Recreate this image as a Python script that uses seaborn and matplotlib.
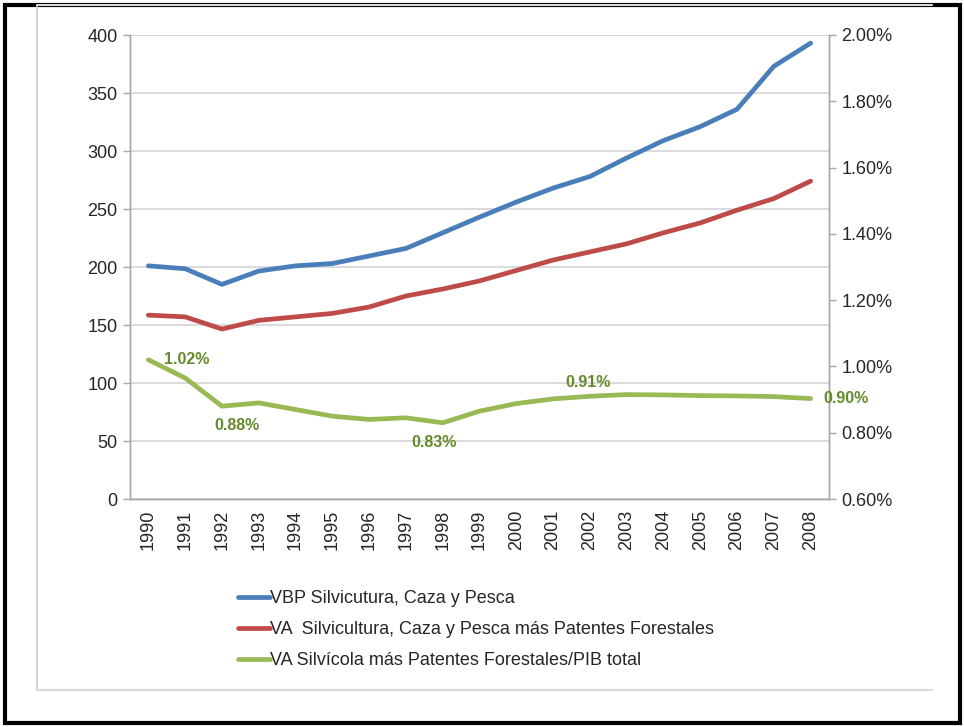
import seaborn as sns
import matplotlib.pyplot as plt
import pandas as pd
import numpy as np
from matplotlib.lines import Line2D
from matplotlib.ticker import FixedLocator, FuncFormatter

sns.set_style("white")
plt.rcParams['font.family'] = ['Liberation Sans', 'DejaVu Sans']

# Data
years = [str(y) for y in range(1990, 2009)]
vbp = [201, 198.5, 185, 196.5, 201, 203, 209.5, 216, 229.5, 243, 256,
       268, 278, 294, 309, 321, 336, 373, 393]
va = [158.5, 157, 146.5, 154, 157, 160, 165.5, 175, 181, 188, 197,
      206, 213, 220, 229.5, 238, 249, 259, 274]
ratio = [1.02, 0.965, 0.88, 0.89, 0.87, 0.85, 0.84, 0.845, 0.83, 0.865, 0.888,
         0.902, 0.91, 0.915, 0.914, 0.912, 0.911, 0.909, 0.903]

names = ["VBP Silvicutura, Caza y Pesca",
         "VA  Silvicultura, Caza y Pesca más Patentes Forestales",
         "VA Silvícola más Patentes Forestales/PIB total"]
colors = ["#4A7EBB", "#BE4B48", "#98B954"]

# which points of the ratio series carry a label, and where the label sits
label_idx = [0, 2, 8, 12, 18]
label_off = {0: (11, 0, 'left'), 2: (11, -14, 'center'), 8: (-6, -14, 'center'),
             12: (-1, 10, 'center'), 18: (9, 0, 'left')}

df = pd.DataFrame({"Year": years, "VBP": vbp, "VA": va, "Ratio": ratio})

fig = plt.figure(figsize=(9.64, 7.27), dpi=100)
ax = fig.add_axes([130 / 964, 1 - 499 / 727, 699 / 964, 464 / 727])
ax2 = ax.twinx()

lw = 3.4
sns.lineplot(data=df, x="Year", y="VBP", ax=ax, color=colors[0], lw=lw,
             sort=False, solid_capstyle='round', zorder=3)
sns.lineplot(data=df, x="Year", y="VA", ax=ax, color=colors[1], lw=lw,
             sort=False, solid_capstyle='round', zorder=3)
sns.lineplot(data=df, x="Year", y="Ratio", ax=ax2, color=colors[2], lw=lw,
             sort=False, solid_capstyle='round', zorder=3)

ax.set_xlim(-0.5, len(years) - 0.5)
ax.set_ylim(0, 400)
ax2.set_ylim(0.6, 2.0)
ax.set_yticks(np.arange(0, 401, 50))
ax2.set_yticks(np.arange(0.6, 2.01, 0.2))
ax2.yaxis.set_major_formatter(FuncFormatter(lambda v, p: f"{v:.2f}%"))

ax.set_xticks(range(len(years)))
ax.set_xticklabels(years, rotation=90)
ax.xaxis.set_minor_locator(FixedLocator(np.arange(-0.5, len(years), 1)))

txt = '#262626'
for a in (ax, ax2):
    a.set_xlabel("")
    a.set_ylabel("")
    a.tick_params(axis='both', labelsize=13, colors=txt)
    a.tick_params(axis='y', length=5, color='#A6A6A6', width=1, pad=4)
    for s in a.spines.values():
        s.set_color('#A6A6A6')
        s.set_linewidth(1)
    a.spines['top'].set_visible(False)
ax.tick_params(axis='x', which='major', length=0, pad=8)
ax.tick_params(axis='x', which='minor', length=5, color='#A6A6A6', width=1)

ax.grid(axis='y', color='#D4D4D4', lw=1.2, zorder=0)
ax.set_axisbelow(True)
ax2.grid(False)

# data labels on the ratio series
for i in label_idx:
    dx, dy, ha = label_off[i]
    ax2.annotate(f"{ratio[i]:.2f}%", (i, ratio[i]), xytext=(dx, dy),
                 textcoords='offset points', ha=ha, va='center',
                 fontsize=11.5, fontweight='bold', color='#668A2C', zorder=4)

handles = [Line2D([0], [0], color=c, lw=lw, solid_capstyle='round') for c in colors]
fig.legend(handles, names, loc='upper left', bbox_to_anchor=(238 / 964, 1 - 590 / 727),
           frameon=False, fontsize=13, handlelength=1.75, handletextpad=0.05,
           labelspacing=0.78, borderpad=0, borderaxespad=0, labelcolor=txt)

# inner grey chart frame and outer black border
gx0, gx1, gy0, gy1 = 37 / 964, 932 / 964, 1 - 690 / 727, 1 - 5 / 727
fig.add_artist(Line2D([gx0, gx0], [gy0, gy1], color='#C8C8C8', lw=1.2))
fig.add_artist(Line2D([gx0, gx1], [gy0, gy0], color='#D9D9D9', lw=1.5))
fig.add_artist(Line2D([gx0, gx1], [gy1, gy1], color='#D9D9D9', lw=1.5))
fig.add_artist(plt.Rectangle((4.5 / 964, 4.5 / 727), 955 / 964, 718 / 727,
                             transform=fig.transFigure, fill=False,
                             edgecolor='black', lw=3))

plt.savefig("out.png", dpi=100)
plt.close()
